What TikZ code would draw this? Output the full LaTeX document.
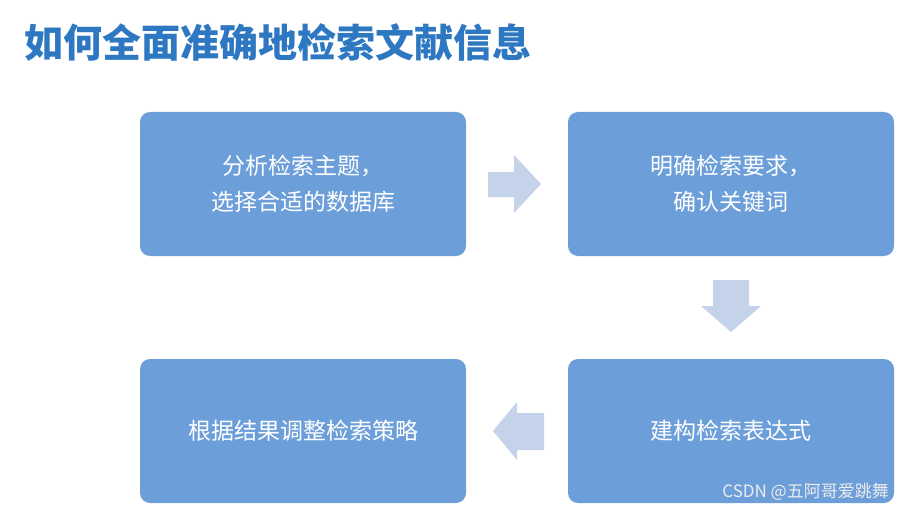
\documentclass[tikz,border=0pt]{standalone}
\usepackage{fontspec}
\newfontfamily\cjk{Noto Sans CJK SC}
\definecolor{boxc}{HTML}{6C9FDA}
\definecolor{arr}{HTML}{C5D3EA}
\definecolor{tit}{HTML}{2E78C2}
\begin{document}
\begin{tikzpicture}[x=1pt,y=-1pt,
  stepbox/.style={draw=none,fill=boxc,rounded corners=10pt,minimum width=326pt,minimum height=144pt,text=white,font=\cjk\fontsize{23}{36}\selectfont,align=center,inner sep=0pt},
  arrshape/.style={fill=arr,draw=none}]
\useasboundingbox (0,0) rectangle (903,511);
\node[anchor=west,text=tit,font=\cjk\bfseries\fontsize{39}{44}\selectfont,inner sep=0pt] (title) at (24,42) {如何全面准确地检索文献信息};
\node[stepbox] (b1) at (303,184) {分析检索主题，\\选择合适的数据库};
\node[stepbox] (b2) at (731,184) {明确检索要求，\\确认关键词};
\node[stepbox] (b3) at (731,431) {建构检索表达式};
\node[stepbox] (b4) at (303,431) {根据结果调整检索策略};
\fill[arrshape] (488,172) -- (514,172) -- (514,155) -- (541,184) -- (514,213) -- (514,197) -- (488,197) -- cycle;
\fill[arrshape] (713,280) -- (749,280) -- (749,306) -- (761,306) -- (731,332) -- (701,306) -- (713,306) -- cycle;
\fill[arrshape] (544,413) -- (517,413) -- (517,402) -- (493,431) -- (517,460) -- (517,450) -- (544,450) -- cycle;
\node[anchor=east,text=white!85!gray,font=\cjk\fontsize{17}{19}\selectfont,inner sep=0pt] (wm) at (889,492) {CSDN @五阿哥爱跳舞};
\end{tikzpicture}
\end{document}
